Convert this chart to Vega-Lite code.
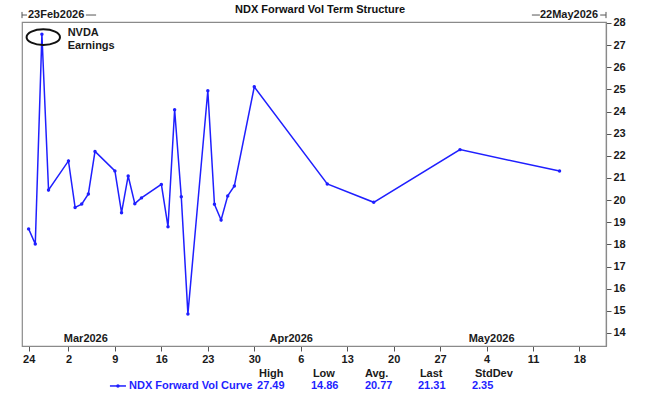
{
  "$schema": "https://vega.github.io/schema/vega-lite/v6.json",
  "width": 584,
  "height": 324,
  "autosize": {"type": "none"},
  "padding": {"left": 22, "top": 22, "right": 64, "bottom": 54},
  "background": "white",
  "config": {
    "view": {"stroke": "#8a8a8a", "strokeWidth": 1.2},
    "font": "Liberation Sans",
    "axis": {"grid": false, "labelFont": "Liberation Sans", "labelFontSize": 11, "labelFontWeight": "bold", "labelColor": "#1a1a1a", "tickColor": "#555555", "tickSize": 5, "labelPadding": 2, "domainColor": "#8a8a8a", "domainWidth": 1.2, "labelOverlap": false},
    "axisQuantitative": {"tickCount": 15, "tickMinStep": 1}
  },
  "layer": [
    {
      "data": {"values": [
        {"date": "2026-02-24T00:00", "vol": 18.70},
        {"date": "2026-02-25T00:00", "vol": 18.02},
        {"date": "2026-02-26T00:00", "vol": 27.49},
        {"date": "2026-02-27T00:00", "vol": 20.46},
        {"date": "2026-03-02T00:00", "vol": 21.77},
        {"date": "2026-03-03T00:00", "vol": 19.67},
        {"date": "2026-03-04T00:00", "vol": 19.82},
        {"date": "2026-03-05T00:00", "vol": 20.28},
        {"date": "2026-03-06T00:00", "vol": 22.20},
        {"date": "2026-03-09T00:00", "vol": 21.32},
        {"date": "2026-03-10T00:00", "vol": 19.43},
        {"date": "2026-03-11T00:00", "vol": 21.09},
        {"date": "2026-03-12T00:00", "vol": 19.84},
        {"date": "2026-03-13T00:00", "vol": 20.10},
        {"date": "2026-03-16T00:00", "vol": 20.71},
        {"date": "2026-03-17T00:00", "vol": 18.80},
        {"date": "2026-03-18T00:00", "vol": 24.08},
        {"date": "2026-03-19T00:00", "vol": 20.15},
        {"date": "2026-03-20T00:00", "vol": 14.86},
        {"date": "2026-03-23T00:00", "vol": 24.94},
        {"date": "2026-03-24T00:00", "vol": 19.81},
        {"date": "2026-03-25T00:00", "vol": 19.10},
        {"date": "2026-03-26T00:00", "vol": 20.19},
        {"date": "2026-03-27T00:00", "vol": 20.64},
        {"date": "2026-03-30T00:00", "vol": 25.12},
        {"date": "2026-04-10T00:00", "vol": 20.73},
        {"date": "2026-04-17T00:00", "vol": 19.90},
        {"date": "2026-04-30T00:00", "vol": 22.28},
        {"date": "2026-05-15T00:00", "vol": 21.31}
      ]},
      "mark": {"type": "line", "color": "#1f1fff", "strokeWidth": 1.5, "point": {"filled": true, "size": 12, "color": "#1f1fff"}},
      "encoding": {
        "x": {"field": "date", "type": "temporal",
          "scale": {"domain": [{"year": 2026, "month": "feb", "date": 23}, {"year": 2026, "month": "may", "date": 22}], "nice": false},
          "axis": {"title": null, "orient": "bottom", "format": "%-d", "labelFlush": false,
            "values": [
              {"year": 2026, "month": "feb", "date": 24},
              {"year": 2026, "month": "mar", "date": 2},
              {"year": 2026, "month": "mar", "date": 9},
              {"year": 2026, "month": "mar", "date": 16},
              {"year": 2026, "month": "mar", "date": 23},
              {"year": 2026, "month": "mar", "date": 30},
              {"year": 2026, "month": "apr", "date": 6},
              {"year": 2026, "month": "apr", "date": 13},
              {"year": 2026, "month": "apr", "date": 20},
              {"year": 2026, "month": "apr", "date": 27},
              {"year": 2026, "month": "may", "date": 4},
              {"year": 2026, "month": "may", "date": 11},
              {"year": 2026, "month": "may", "date": 18}
            ]}},
        "y": {"field": "vol", "type": "quantitative",
          "scale": {"domain": [13.41, 28.045], "nice": false, "zero": false},
          "axis": {"title": null, "orient": "right", "tickCount": 15, "values": [14, 15, 16, 17, 18, 19, 20, 21, 22, 23, 24, 25, 26, 27, 28], "labelFlush": false, "labelOverlap": false}}
      }
    },
    {
      "data": {"values": [{}]},
      "mark": {"type": "text", "text": "NDX Forward Vol Term Structure", "align": "center", "baseline": "middle", "fontSize": 11, "fontWeight": "bold", "color": "#111111"},
      "encoding": {
        "x": {"datum": {"year": 2026, "month": "apr", "date": 8, "hours": 22}, "type": "temporal"},
        "y": {"datum": 28.59, "type": "quantitative"}
      }
    },
    {
      "data": {"values": [{}]},
      "mark": {"type": "point", "shape": "M -1 0 A 1 0.47 0 1 1 1 0 A 1 0.47 0 1 1 -1 0 Z", "size": 1115, "filled": false, "stroke": "#111111", "strokeWidth": 2, "opacity": 1},
      "encoding": {
        "x": {"datum": {"year": 2026, "month": "feb", "date": 26, "hours": 5}, "type": "temporal"},
        "y": {"datum": 27.36, "type": "quantitative"}
      }
    },
    {
      "data": {"values": [{}]},
      "mark": {"type": "text", "text": "NVDA\nEarnings", "lineBreak": "\n", "lineHeight": 13, "align": "left", "baseline": "top", "fontSize": 11, "fontWeight": "bold", "color": "#1a1a1a"},
      "encoding": {
        "x": {"datum": {"year": 2026, "month": "mar", "date": 1, "hours": 21}, "type": "temporal"},
        "y": {"datum": 27.81, "type": "quantitative"}
      }
    },
    {
      "data": {"values": [
        {"month": "2026-03-01T00:00", "label": "Mar2026"},
        {"month": "2026-04-01T00:00", "label": "Apr2026"},
        {"month": "2026-05-01T00:00", "label": "May2026"}
      ]},
      "mark": {"type": "text", "align": "left", "baseline": "middle", "dx": 2, "fontSize": 11, "fontWeight": "bold", "color": "#1a1a1a"},
      "encoding": {
        "x": {"field": "month", "type": "temporal"},
        "y": {"datum": 13.73, "type": "quantitative"},
        "text": {"field": "label"}
      }
    },
    {
      "data": {"values": [{}]},
      "mark": {"type": "text", "text": "23Feb2026", "align": "left", "baseline": "middle", "dx": 6, "fontSize": 11, "fontWeight": "bold", "color": "#1a1a1a"},
      "encoding": {
        "x": {"datum": {"year": 2026, "month": "feb", "date": 23}, "type": "temporal"},
        "y": {"datum": 28.36, "type": "quantitative"}
      }
    },
    {
      "data": {"values": [{}]},
      "mark": {"type": "text", "text": "22May2026", "align": "right", "baseline": "middle", "dx": -8, "fontSize": 11, "fontWeight": "bold", "color": "#1a1a1a"},
      "encoding": {
        "x": {"datum": {"year": 2026, "month": "may", "date": 22}, "type": "temporal"},
        "y": {"datum": 28.36, "type": "quantitative"}
      }
    },
    {
      "data": {"values": [{}]},
      "mark": {"type": "rule", "color": "#555555", "strokeWidth": 1},
      "encoding": {
        "x": {"datum": {"year": 2026, "month": "feb", "date": 23}, "type": "temporal"},
        "x2": {"datum": {"year": 2026, "month": "feb", "date": 23, "hours": 18}},
        "y": {"datum": 28.36, "type": "quantitative"}
      }
    },
    {
      "data": {"values": [{}]},
      "mark": {"type": "rule", "color": "#555555", "strokeWidth": 1},
      "encoding": {
        "x": {"datum": {"year": 2026, "month": "feb", "date": 23}, "type": "temporal"},
        "y": {"datum": 28.5, "type": "quantitative"},
        "y2": {"datum": 28.22}
      }
    },
    {
      "data": {"values": [{}]},
      "mark": {"type": "rule", "color": "#555555", "strokeWidth": 1},
      "encoding": {
        "x": {"datum": {"year": 2026, "month": "mar", "date": 4, "hours": 15}, "type": "temporal"},
        "x2": {"datum": {"year": 2026, "month": "mar", "date": 6, "hours": 4}},
        "y": {"datum": 28.36, "type": "quantitative"}
      }
    },
    {
      "data": {"values": [{}]},
      "mark": {"type": "rule", "color": "#555555", "strokeWidth": 1},
      "encoding": {
        "x": {"datum": {"year": 2026, "month": "may", "date": 10, "hours": 20}, "type": "temporal"},
        "x2": {"datum": {"year": 2026, "month": "may", "date": 12, "hours": 1}},
        "y": {"datum": 28.36, "type": "quantitative"}
      }
    },
    {
      "data": {"values": [{}]},
      "mark": {"type": "rule", "color": "#555555", "strokeWidth": 1},
      "encoding": {
        "x": {"datum": {"year": 2026, "month": "may", "date": 21, "hours": 3}, "type": "temporal"},
        "x2": {"datum": {"year": 2026, "month": "may", "date": 22}},
        "y": {"datum": 28.36, "type": "quantitative"}
      }
    },
    {
      "data": {"values": [{}]},
      "mark": {"type": "rule", "color": "#555555", "strokeWidth": 1},
      "encoding": {
        "x": {"datum": {"year": 2026, "month": "may", "date": 22}, "type": "temporal"},
        "y": {"datum": 28.5, "type": "quantitative"},
        "y2": {"datum": 28.22}
      }
    },
    {
      "data": {"values": [{}]},
      "mark": {"type": "rule", "color": "#1f1fff", "strokeWidth": 1.5},
      "encoding": {
        "x": {"datum": {"year": 2026, "month": "mar", "date": 8, "hours": 6}, "type": "temporal"},
        "x2": {"datum": {"year": 2026, "month": "mar", "date": 10, "hours": 16}},
        "y": {"datum": 11.605, "type": "quantitative"}
      }
    },
    {
      "data": {"values": [{}]},
      "mark": {"type": "point", "filled": true, "size": 12, "color": "#1f1fff", "opacity": 1},
      "encoding": {
        "x": {"datum": {"year": 2026, "month": "mar", "date": 9, "hours": 11}, "type": "temporal"},
        "y": {"datum": 11.605, "type": "quantitative"}
      }
    },
    {
      "data": {"values": [{}]},
      "mark": {"type": "text", "text": "NDX Forward Vol Curve", "align": "left", "baseline": "middle", "fontSize": 11, "fontWeight": "bold", "color": "#1f1fff"},
      "encoding": {
        "x": {"datum": {"year": 2026, "month": "mar", "date": 11, "hours": 3}, "type": "temporal"},
        "y": {"datum": 11.605, "type": "quantitative"}
      }
    },
    {
      "data": {"values": [{}]},
      "mark": {"type": "text", "text": "High", "align": "left", "baseline": "middle", "fontSize": 11, "fontWeight": "bold", "color": "#1a1a1a"},
      "encoding": {
        "x": {"datum": {"year": 2026, "month": "mar", "date": 30, "hours": 17}, "type": "temporal"},
        "y": {"datum": 12.15, "type": "quantitative"}
      }
    },
    {
      "data": {"values": [{}]},
      "mark": {"type": "text", "text": "27.49", "align": "left", "baseline": "middle", "fontSize": 11, "fontWeight": "bold", "color": "#1f1fff"},
      "encoding": {
        "x": {"datum": {"year": 2026, "month": "mar", "date": 30, "hours": 10}, "type": "temporal"},
        "y": {"datum": 11.605, "type": "quantitative"}
      }
    },
    {
      "data": {"values": [{}]},
      "mark": {"type": "text", "text": "Low", "align": "left", "baseline": "middle", "fontSize": 11, "fontWeight": "bold", "color": "#1a1a1a"},
      "encoding": {
        "x": {"datum": {"year": 2026, "month": "apr", "date": 7, "hours": 20}, "type": "temporal"},
        "y": {"datum": 12.15, "type": "quantitative"}
      }
    },
    {
      "data": {"values": [{}]},
      "mark": {"type": "text", "text": "14.86", "align": "left", "baseline": "middle", "fontSize": 11, "fontWeight": "bold", "color": "#1f1fff"},
      "encoding": {
        "x": {"datum": {"year": 2026, "month": "apr", "date": 7, "hours": 13}, "type": "temporal"},
        "y": {"datum": 11.605, "type": "quantitative"}
      }
    },
    {
      "data": {"values": [{}]},
      "mark": {"type": "text", "text": "Avg.", "align": "left", "baseline": "middle", "fontSize": 11, "fontWeight": "bold", "color": "#1a1a1a"},
      "encoding": {
        "x": {"datum": {"year": 2026, "month": "apr", "date": 15, "hours": 16}, "type": "temporal"},
        "y": {"datum": 12.15, "type": "quantitative"}
      }
    },
    {
      "data": {"values": [{}]},
      "mark": {"type": "text", "text": "20.77", "align": "left", "baseline": "middle", "fontSize": 11, "fontWeight": "bold", "color": "#1f1fff"},
      "encoding": {
        "x": {"datum": {"year": 2026, "month": "apr", "date": 15, "hours": 16}, "type": "temporal"},
        "y": {"datum": 11.605, "type": "quantitative"}
      }
    },
    {
      "data": {"values": [{}]},
      "mark": {"type": "text", "text": "Last", "align": "left", "baseline": "middle", "fontSize": 11, "fontWeight": "bold", "color": "#1a1a1a"},
      "encoding": {
        "x": {"datum": {"year": 2026, "month": "apr", "date": 23, "hours": 23}, "type": "temporal"},
        "y": {"datum": 12.15, "type": "quantitative"}
      }
    },
    {
      "data": {"values": [{}]},
      "mark": {"type": "text", "text": "21.31", "align": "left", "baseline": "middle", "fontSize": 11, "fontWeight": "bold", "color": "#1f1fff"},
      "encoding": {
        "x": {"datum": {"year": 2026, "month": "apr", "date": 23, "hours": 16}, "type": "temporal"},
        "y": {"datum": 11.605, "type": "quantitative"}
      }
    },
    {
      "data": {"values": [{}]},
      "mark": {"type": "text", "text": "StdDev", "align": "left", "baseline": "middle", "fontSize": 11, "fontWeight": "bold", "color": "#1a1a1a"},
      "encoding": {
        "x": {"datum": {"year": 2026, "month": "may", "date": 2, "hours": 6}, "type": "temporal"},
        "y": {"datum": 12.15, "type": "quantitative"}
      }
    },
    {
      "data": {"values": [{}]},
      "mark": {"type": "text", "text": "2.35", "align": "left", "baseline": "middle", "fontSize": 11, "fontWeight": "bold", "color": "#1f1fff"},
      "encoding": {
        "x": {"datum": {"year": 2026, "month": "may", "date": 1, "hours": 19}, "type": "temporal"},
        "y": {"datum": 11.605, "type": "quantitative"}
      }
    }
  ]
}
